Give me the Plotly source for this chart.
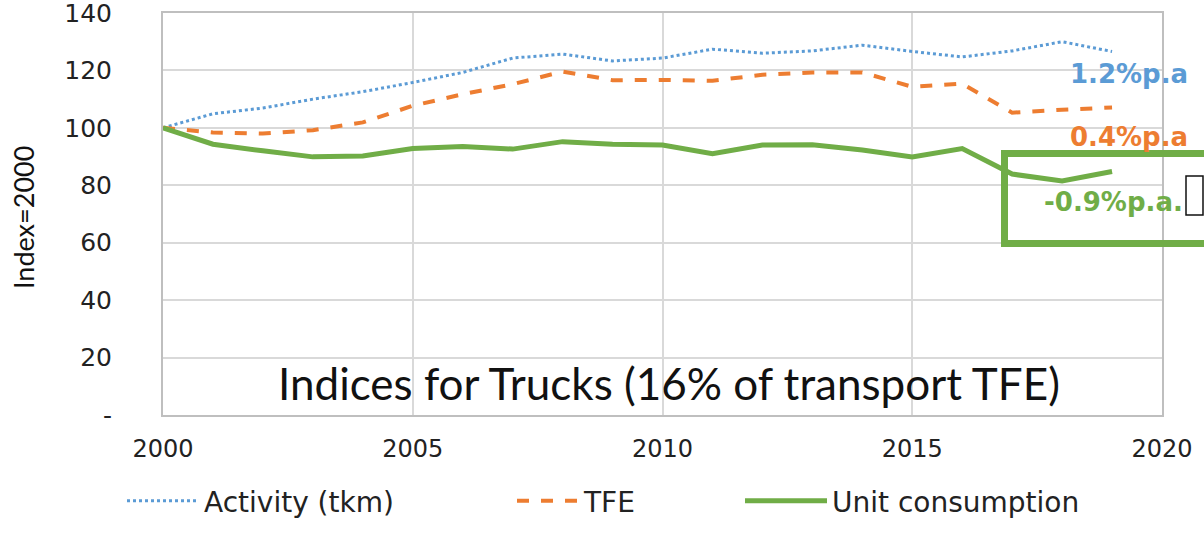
import plotly.graph_objects as go

years = list(range(2000, 2020))
activity = [100, 104.9, 106.9, 110.0, 112.6, 115.8, 119.3, 124.3, 125.7, 123.3,
            124.3, 127.4, 126.0, 126.8, 128.8, 126.6, 124.7, 126.8, 130.0, 126.6]
tfe = [100, 98.4, 98.0, 99.2, 101.9, 107.7, 111.7, 115.2, 119.6, 116.6,
       116.7, 116.4, 118.5, 119.3, 119.3, 114.3, 115.4, 105.3, 106.3, 107.1]
unit = [100, 94.3, 92.0, 89.9, 90.2, 92.8, 93.5, 92.6, 95.2, 94.3,
        94.0, 91.0, 94.0, 94.1, 92.3, 89.9, 92.8, 83.9, 81.5, 84.8]

y_ticks = [0, 20, 40, 60, 80, 100, 120, 140]
y_ticktext = ["-", "20", "40", "60", "80", "100", "120", "140"]
x_ticks = [2000, 2005, 2010, 2015, 2020]

BLUE = "#5B9BD5"
ORANGE = "#ED7D31"
GREEN = "#70AD47"

fig = go.Figure()
fig.add_trace(go.Scatter(x=years, y=activity, mode="lines", name="Activity (tkm)",
                         line=dict(color=BLUE, width=3, dash="dot"), legend="legend",
                         showlegend=True))
fig.add_trace(go.Scatter(x=years, y=tfe, mode="lines", name="TFE",
                         line=dict(color=ORANGE, width=4, dash="dash"), legend="legend2",
                         showlegend=True))
fig.add_trace(go.Scatter(x=years, y=unit, mode="lines", name="Unit consumption",
                         line=dict(color=GREEN, width=5), legend="legend3",
                         showlegend=True))

W, H = 1204, 547
L, R, T, B = 163, 42, 13, 132
pw, ph = W - L - R, H - T - B

def px(x):
    return (x - L) / pw

def py(y):
    return (H - B - y) / ph

leg_font = dict(family="DejaVu Sans", size=28, color="#222222")
legend_common = dict(orientation="h", yanchor="middle", xanchor="left",
                     font=leg_font, bgcolor="rgba(0,0,0,0)")

fig.update_layout(
    width=W, height=H,
    showlegend=True,
    margin=dict(l=L, r=R, t=T, b=B, autoexpand=False),
    plot_bgcolor="white", paper_bgcolor="white",
    legend=dict(x=px(122), y=py(501), itemwidth=72, **legend_common),
    legend2=dict(x=px(512), y=py(501), itemwidth=62, **legend_common),
    legend3=dict(x=px(740), y=py(501), itemwidth=82, **legend_common),
    xaxis=dict(range=[2000, 2020], tickvals=x_ticks, showgrid=True, automargin=False,
               gridcolor="#d9d9d9", gridwidth=2, showline=True, linecolor="#bfbfbf",
               linewidth=2, mirror=True, zeroline=False, ticks="",
               ticklabeloverflow="allow",
               tickfont=dict(family="DejaVu Sans", size=24, color="#222222"),
               ticklabelstandoff=11),
    yaxis=dict(range=[0, 140], tickvals=y_ticks, ticktext=y_ticktext, showgrid=True,
               automargin=False, ticklabeloverflow="allow",
               gridcolor="#d9d9d9", gridwidth=2, showline=True, linecolor="#bfbfbf",
               linewidth=2, mirror=True, zeroline=False, ticks="",
               tickfont=dict(family="DejaVu Sans", size=25, color="#222222"),
               ticklabelstandoff=44),
)

def note(text, x, y, size, color, family="DejaVu Sans", angle=0):
    fig.add_annotation(text=text, x=px(x), y=py(y), xref="paper", yref="paper",
                       xanchor="center", yanchor="middle", textangle=angle,
                       showarrow=False, font=dict(family=family, size=size, color=color))

note("Index=2000", 24, 218, 27, "#111111", family="Lato", angle=-90)
note("Indices for Trucks (16% of transport TFE)", 669, 383, 44, "#111111", family="Lato")
note("<b>1.2%p.a</b>", 1129, 74, 26, BLUE)
note("<b>0.4%p.a</b>", 1129, 137, 26, ORANGE)
note("<b>-0.9%p.a.</b>", 1113, 202, 26, GREEN)

fig.add_shape(type="rect", xref="paper", yref="paper",
              x0=px(1004.5), x1=px(1215), y0=py(243.5), y1=py(153.5),
              line=dict(color=GREEN, width=7))
fig.add_shape(type="rect", xref="paper", yref="paper",
              x0=px(1186), x1=px(1203), y0=py(215), y1=py(176),
              line=dict(color="#111111", width=1.5))

fig.write_html("out.html", config={"displayModeBar": False},
               post_script="document.body.style.margin='0';document.body.style.overflow='hidden';")
